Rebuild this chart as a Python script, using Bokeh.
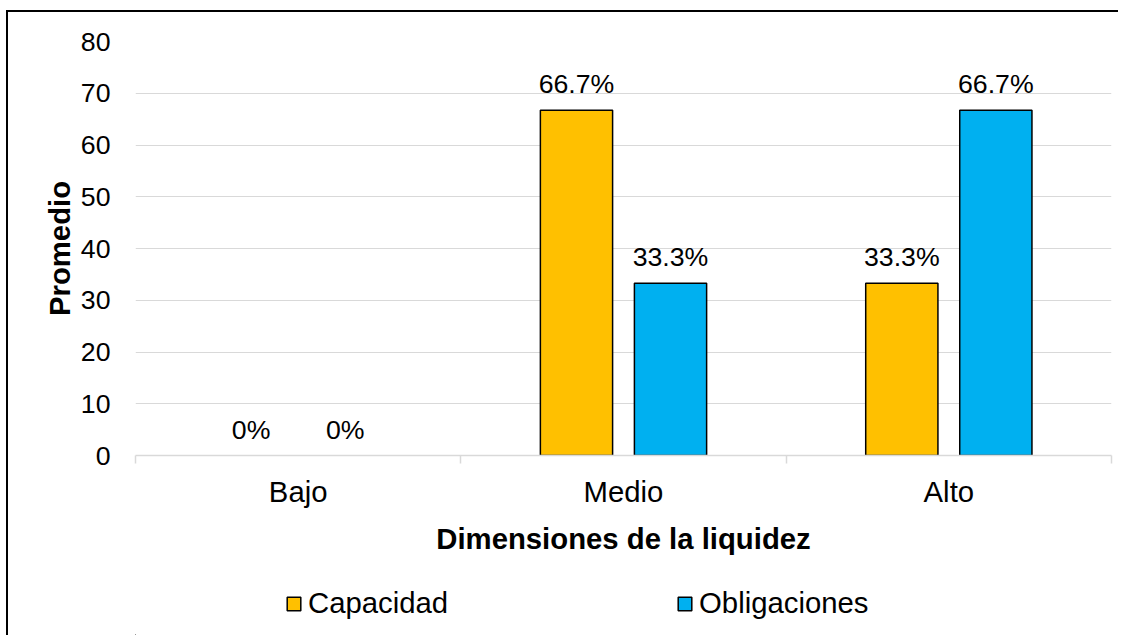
from bokeh.plotting import figure
from bokeh.layouts import column
from bokeh.models import (ColumnDataSource, Range1d, FixedTicker, Legend, LegendItem)
from bokeh.transform import dodge
from bokeh.core.properties import value
from bokeh.embed import file_html
from bokeh.resources import INLINE

categories = ["Bajo", "Medio", "Alto"]
capacidad = [0, 66.7, 33.3]
obligaciones = [0, 33.3, 66.7]
series_names = ["Capacidad", "Obligaciones"]
colors = ["#FFC000", "#00B0F0"]
y_ticks = [0, 10, 20, 30, 40, 50, 60, 70, 80]

def fmt(v):
    return "0%" if v == 0 else f"{v:.1f}%"

xpos = [i + 0.5 for i in range(len(categories))]
src = ColumnDataSource(dict(
    x=xpos,
    cap=capacidad, obl=obligaciones,
    cap_lbl=[fmt(v) for v in capacidad],
    obl_lbl=[fmt(v) for v in obligaciones],
    cap_la=[1 if v > 0 else 0 for v in capacidad],
    obl_la=[1 if v > 0 else 0 for v in obligaciones],
))

FONT = "Liberation Sans"

p = figure(width=1110, height=563, output_backend="svg", toolbar_location=None,
           x_range=Range1d(0, len(categories)), y_range=Range1d(0, 80),
           min_border_left=127, min_border_right=7, min_border_top=29, min_border_bottom=120)
p.outline_line_color = None
p.background_fill_color = "white"
p.border_fill_color = "white"

off = 0.1445
bw = 0.222
p.vbar(x=dodge("x", -off, range=p.x_range), top="cap", width=bw, source=src,
       fill_color=colors[0], line_color="black", line_width=1.5, line_alpha="cap_la")
p.vbar(x=dodge("x", off, range=p.x_range), top="obl", width=bw, source=src,
       fill_color=colors[1], line_color="black", line_width=1.5, line_alpha="obl_la")

p.text(x=dodge("x", -off, range=p.x_range), y="cap", text="cap_lbl", source=src,
       text_align="center", text_baseline="alphabetic", y_offset=-26,
       text_font=value(FONT), text_font_size="26.7px", text_color="black")
p.text(x=dodge("x", off, range=p.x_range), y="obl", text="obl_lbl", source=src,
       text_align="center", text_baseline="alphabetic", y_offset=-26,
       text_font=value(FONT), text_font_size="26.7px", text_color="black")

# x axis
xa = p.xaxis[0]
xa.ticker = FixedTicker(ticks=xpos, minor_ticks=list(range(len(categories) + 1)))
xa.major_label_overrides = {x: c for x, c in zip(xpos, categories)}
xa.major_tick_out = 0
xa.major_tick_in = 0
xa.minor_tick_out = 8
xa.minor_tick_in = 0
xa.minor_tick_line_color = "#d9d9d9"
xa.minor_tick_line_width = 1.5
xa.axis_line_color = "#d9d9d9"
xa.axis_line_width = 1.5
xa.major_label_text_font = FONT
xa.major_label_text_font_size = "29.3px"
xa.major_label_text_color = "black"
xa.major_label_standoff = 11
xa.axis_label = "Dimensiones de la liquidez"
xa.axis_label_text_font = FONT
xa.axis_label_text_font_size = "29.3px"
xa.axis_label_text_font_style = "bold"
xa.axis_label_text_color = "black"
xa.axis_label_standoff = 11

# y axis
ya = p.yaxis[0]
ya.ticker = FixedTicker(ticks=y_ticks, minor_ticks=[])
ya.axis_line_color = None
ya.major_tick_line_color = None
ya.major_tick_out = 0
ya.major_tick_in = 0
ya.major_label_standoff = 25
ya.major_label_text_font = FONT
ya.major_label_text_font_size = "26.7px"
ya.major_label_text_color = "black"
ya.axis_label = "Promedio"
ya.axis_label_text_font = FONT
ya.axis_label_text_font_size = "29.3px"
ya.axis_label_text_font_style = "bold"
ya.axis_label_text_color = "black"
ya.axis_label_standoff = 2

p.xgrid.grid_line_color = None
p.ygrid.grid_line_color = "#d9d9d9"
p.ygrid.grid_line_width = 1

# legend strip below the chart (series renderers kept out of view, legend only)
p2 = figure(width=1110, height=60, output_backend="svg", toolbar_location=None,
            x_range=Range1d(1000, 1001), y_range=Range1d(1000, 1001),
            x_axis_type=None, y_axis_type=None,
            min_border_left=0, min_border_right=0, min_border_top=0, min_border_bottom=0)
p2.outline_line_color = None
p2.xgrid.grid_line_color = None
p2.ygrid.grid_line_color = None
p2.border_fill_color = "white"
l1 = p2.vbar(x="x", top="cap", width=bw, source=src, fill_color=colors[0],
             line_color="black", line_width=1.5)
l2 = p2.vbar(x="x", top="obl", width=bw, source=src, fill_color=colors[1],
             line_color="black", line_width=1.5)
legend = Legend(items=[LegendItem(label=series_names[0], renderers=[l1]),
                       LegendItem(label=series_names[1], renderers=[l2])],
                orientation="horizontal", location=(150, 15),
                spacing=228, glyph_width=17, glyph_height=17, label_standoff=6,
                padding=0, margin=0, border_line_color=None,
                background_fill_alpha=0,
                label_text_font=FONT, label_text_font_size="29.3px",
                label_text_color="black")
p2.add_layout(legend)

layout = column(p, p2, spacing=0)
layout.styles = {"border-left": "2px solid #000", "border-top": "2px solid #000",
                 "margin-left": "6px", "margin-top": "10px"}

open("out.html", "w").write(file_html(layout, INLINE))
